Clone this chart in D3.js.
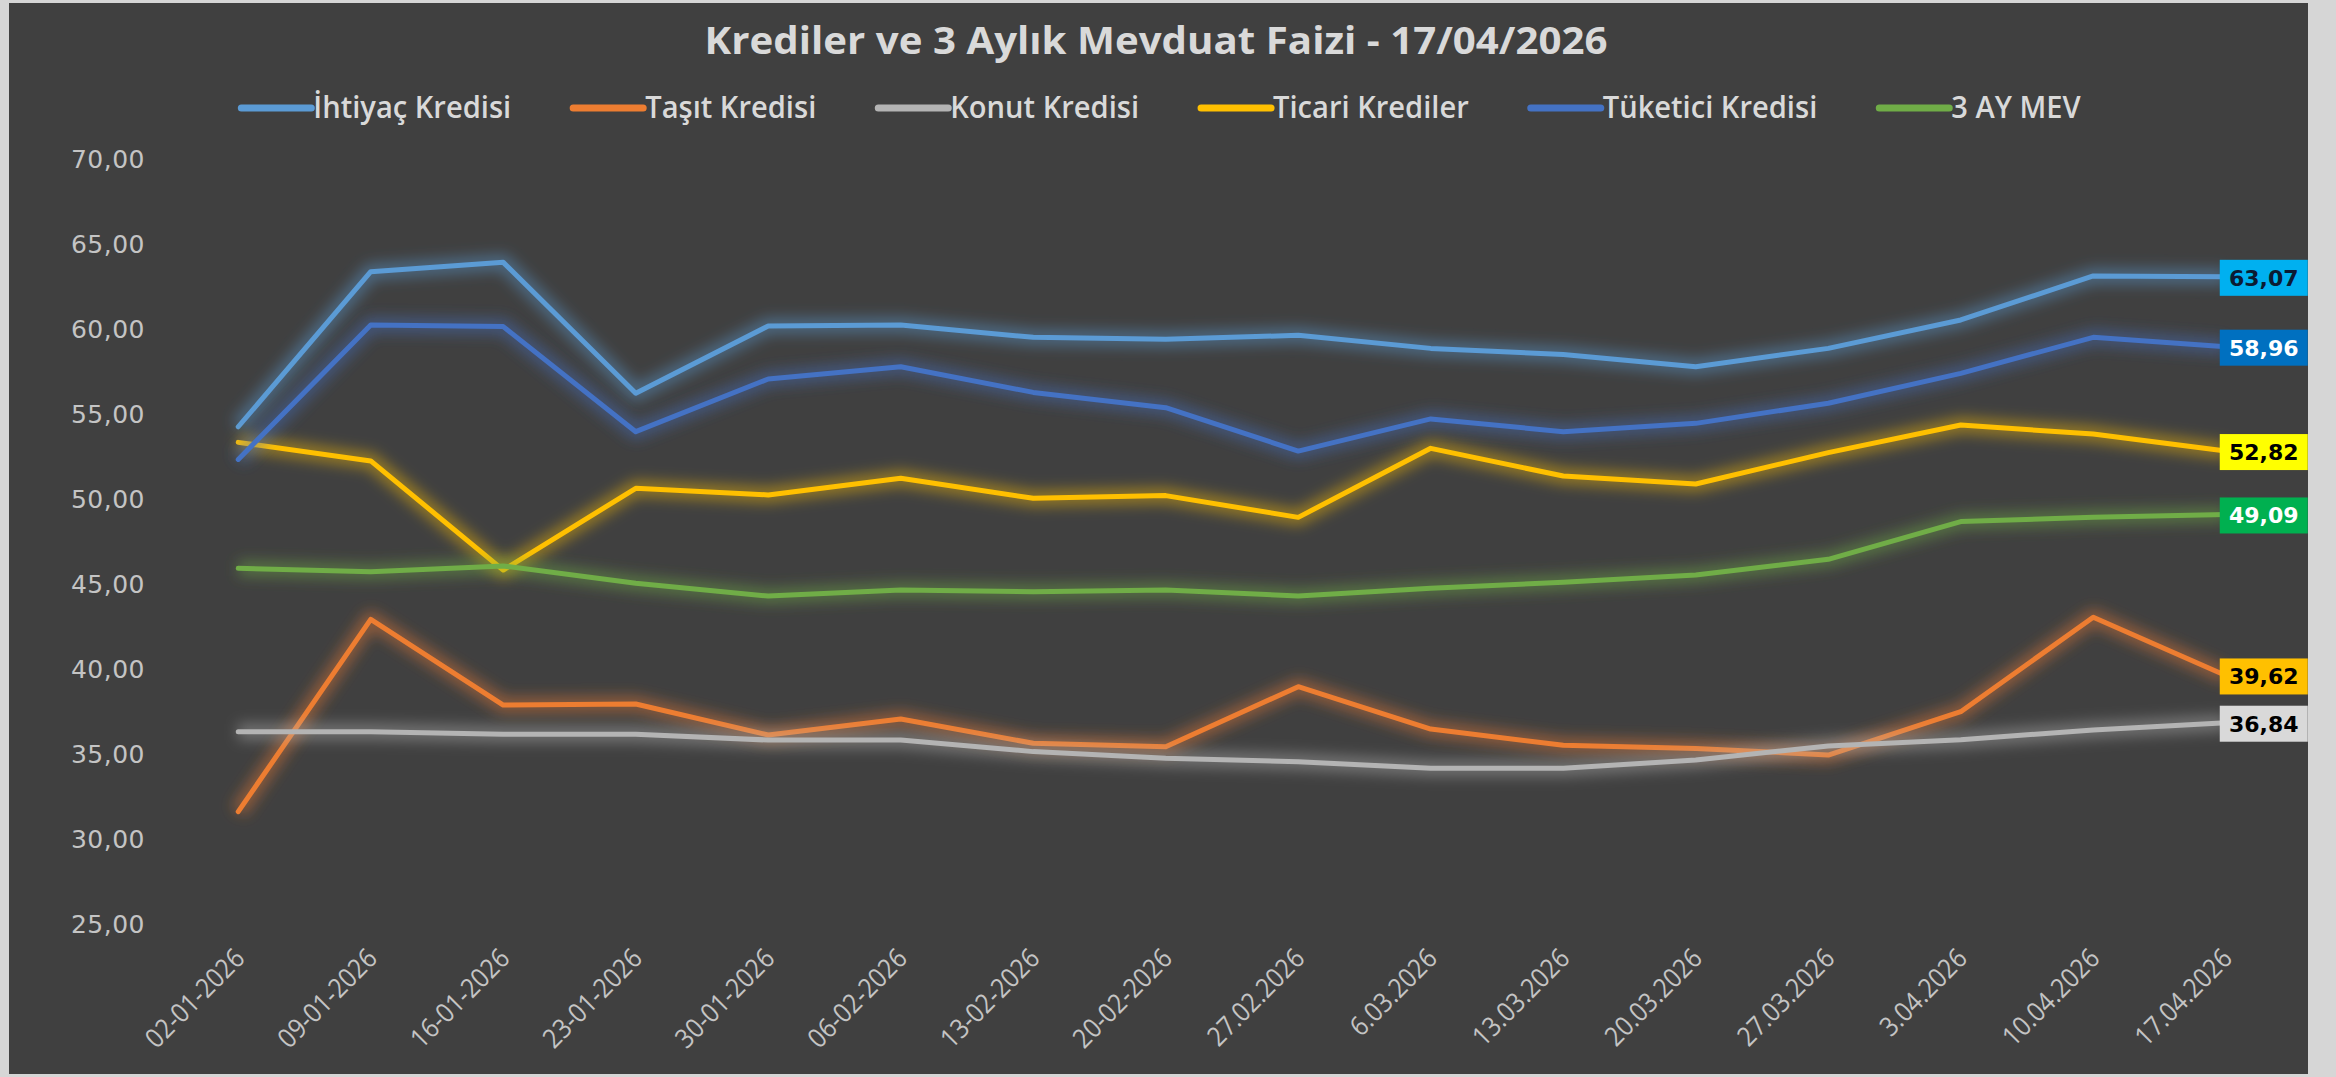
<!DOCTYPE html>
<html lang="tr">
<head>
<meta charset="utf-8">
<script src="https://cdn.jsdelivr.net/npm/d3@7"></script>
<style>
  html, body { margin: 0; padding: 0; background: #d6d6d6; }
  svg { display: block; }
</style>
</head>
<body>
<script>
// Weekly dates (category axis)
const dates = ["02-01-2026","09-01-2026","16-01-2026","23-01-2026","30-01-2026","06-02-2026",
  "13-02-2026","20-02-2026","27.02.2026","6.03.2026","13.03.2026","20.03.2026","27.03.2026",
  "3.04.2026","10.04.2026","17.04.2026"];

// Rates per series (%)
const ihtiyac  = [54.25,63.37,63.92,56.22,60.18,60.24,59.51,59.39,59.63,58.86,58.50,57.78,58.86,60.53,63.12,63.07];
const tasit    = [31.61,42.92,37.88,37.94,36.12,37.06,35.63,35.43,38.96,36.47,35.51,35.33,34.94,37.49,43.04,39.62];
const konut    = [36.31,36.31,36.16,36.16,35.82,35.82,35.14,34.75,34.55,34.16,34.16,34.65,35.47,35.84,36.41,36.84];
const ticari   = [53.33,52.24,45.82,50.63,50.24,51.22,50.04,50.20,48.92,52.98,51.35,50.88,52.73,54.35,53.82,52.82];
const tuketici = [52.33,60.24,60.14,53.96,57.06,57.78,56.27,55.37,52.82,54.71,53.96,54.45,55.63,57.39,59.51,58.96];
const mev3     = [45.92,45.72,46.06,45.04,44.29,44.65,44.55,44.65,44.29,44.75,45.10,45.53,46.45,48.67,48.92,49.09];

const seriesNames = ["İhtiyaç Kredisi","Taşıt Kredisi","Konut Kredisi","Ticari Krediler","Tüketici Kredisi","3 AY MEV"];
const seriesValues = [ihtiyac, tasit, konut, ticari, tuketici, mev3];
const yTicks = [25,30,35,40,45,50,55,60,65,70];
const titleText = "Krediler ve 3 Aylık Mevduat Faizi - 17/04/2026";

// Styling
const lineColors  = ["#5b9bd5","#ed7d31","#b4b4b4","#ffc000","#4472c4","#70ad47"];
const boxFills    = ["#00b0f0","#0070c0","#ffff00","#00b050","#ffc000","#d9d9d9"];
const boxOrder    = [0,4,3,5,1,2];           // series index for each end box
const boxText     = ["#0b1b33","#ffffff","#000000","#ffffff","#000000","#000000"];

const W = 2336, H = 1077;
const tr = d3.formatLocale({decimal: ",", thousands: ".", grouping: [3], currency: ["", " ₺"]});
const fmt = tr.format(".2f");

const svg = d3.select("body").append("svg").attr("width", W).attr("height", H);

// chart panel
svg.append("rect").attr("x", 9).attr("y", 3).attr("width", 2299).attr("height", 1071).attr("fill", "#404040");

const defs = svg.append("defs");
const glow = defs.append("filter").attr("id", "halo").attr("filterUnits", "userSpaceOnUse")
  .attr("x", 0).attr("y", 0).attr("width", W).attr("height", H);
glow.append("feGaussianBlur").attr("in", "SourceGraphic").attr("stdDeviation", 7);

const x = d3.scalePoint().domain(dates).range([172, 2292]).padding(0.5);
const y = d3.scaleLinear().domain([25, 70]).range([924, 159]);

// Title
const title = svg.append("text").attr("x", 1156).attr("y", 54)
  .attr("text-anchor", "middle").attr("fill", "#d9d9d9")
  .attr("font-family", "'Open Sans', 'Noto Sans', sans-serif").attr("font-weight", 700)
  .attr("font-size", 38).text(titleText);
title.attr("textLength", 903).attr("lengthAdjust", "spacingAndGlyphs");

// Legend
const legend = svg.append("g");
const legendFont = 30, swLen = 70, gap = 62, condense = 0.97;
let cx = 0;
seriesNames.forEach((name, i) => {
  const g = legend.append("g").attr("transform", `translate(${cx},0)`);
  g.append("line").attr("x1", 0).attr("x2", swLen).attr("y1", 0).attr("y2", 0)
    .attr("stroke", lineColors[i]).attr("stroke-width", 7).attr("stroke-linecap", "round");
  const t = g.append("text").attr("x", swLen + 2).attr("y", 10).attr("fill", "#d9d9d9")
    .attr("font-family", "'Open Sans', 'Noto Sans', sans-serif").attr("font-weight", 600)
    .attr("font-size", legendFont).text(name);
  const w = t.node().getComputedTextLength() * condense;
  t.attr("textLength", w).attr("lengthAdjust", "spacingAndGlyphs");
  cx += swLen + 2 + w + gap;
});
const legendW = cx - gap;
legend.attr("transform", `translate(${1161 - legendW / 2},108)`);

// Y axis labels
svg.append("g").selectAll("text").data(yTicks).join("text")
  .attr("x", 145).attr("y", d => y(d)).attr("dy", "0.36em")
  .attr("text-anchor", "end").attr("fill", "#c4c4c4")
  .attr("font-family", "'DejaVu Sans', sans-serif").attr("font-size", 25)
  .attr("letter-spacing", 0.5)
  .text(d => fmt(d));

// X axis labels (rotated)
const xl = svg.append("g").selectAll("text").data(dates).join("text")
  .attr("transform", d => `translate(${x(d) + 8},960) rotate(-45)`)
  .attr("text-anchor", "end").attr("fill", "#c4c4c4")
  .attr("font-family", "'Open Sans', 'Noto Sans', sans-serif").attr("font-size", 27)
  .text(d => d);
xl.each(function () {
  const w = this.getComputedTextLength() * 0.9;
  d3.select(this).attr("textLength", w).attr("lengthAdjust", "spacingAndGlyphs");
});

// Lines with soft halo
const line = d3.line().x((d, i) => x(dates[i])).y(d => y(d));
const lines = svg.append("g");
seriesValues.forEach((vals, i) => {
  const g = lines.append("g");
  g.append("path").attr("d", line(vals)).attr("fill", "none")
    .attr("stroke", lineColors[i]).attr("stroke-width", 16).attr("stroke-opacity", 0.45)
    .attr("stroke-linejoin", "round").attr("filter", "url(#halo)");
  g.append("path").attr("d", line(vals)).attr("fill", "none")
    .attr("stroke", lineColors[i]).attr("stroke-width", 5)
    .attr("stroke-linejoin", "round").attr("stroke-linecap", "round");
});

// Last-value boxes
const lastDate = dates[dates.length - 1];
const boxes = svg.append("g");
boxOrder.forEach((si, k) => {
  const v = seriesValues[si][seriesValues[si].length - 1];
  const bx = x(lastDate) - 6, by = y(v) + 1;
  boxes.append("rect").attr("x", bx).attr("y", by - 18).attr("width", 88).attr("height", 36)
    .attr("fill", boxFills[k]);
  boxes.append("text").attr("x", bx + 44).attr("y", by).attr("dy", "0.36em")
    .attr("text-anchor", "middle").attr("fill", boxText[k])
    .attr("font-family", "'DejaVu Sans', sans-serif").attr("font-weight", 700).attr("font-size", 22)
    .text(fmt(v));
});
</script>
</body>
</html>
